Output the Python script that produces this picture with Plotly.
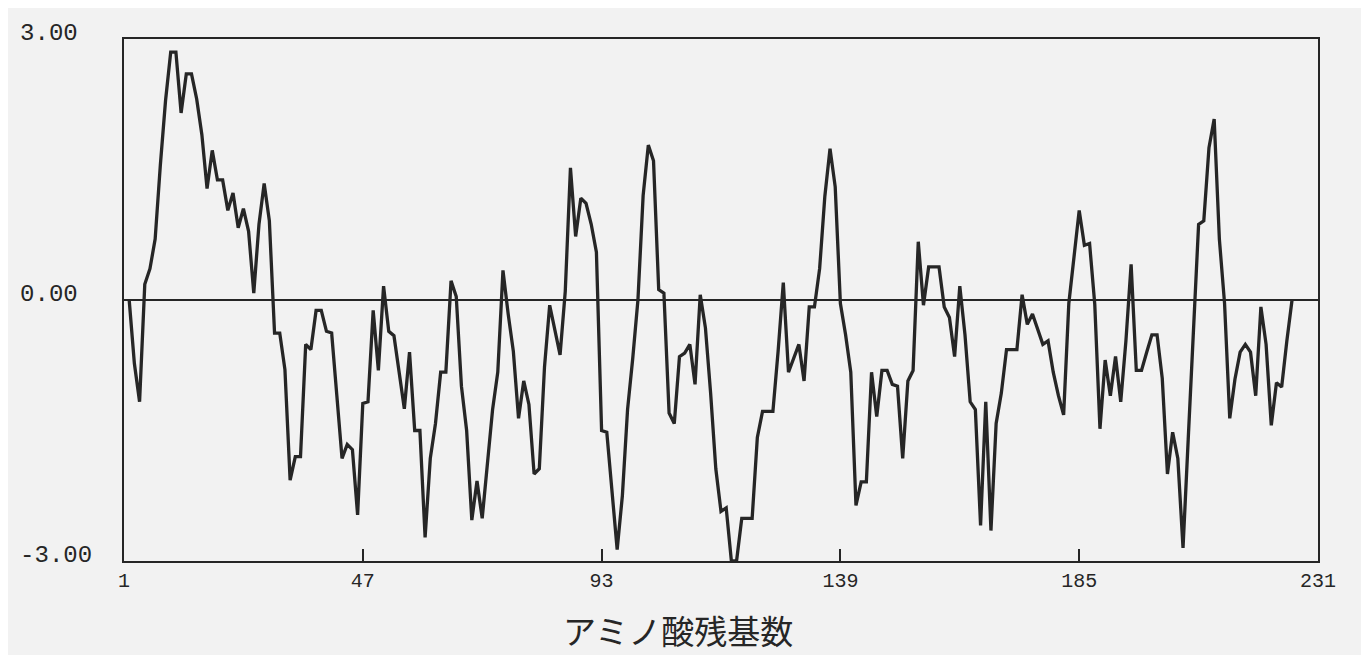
import plotly.graph_objects as go

# residue numbers and hydropathy values
residues = list(range(2, 227))
hydropathy = [
    0.0, -0.73, -1.17, 0.18, 0.36, 0.7, 1.55, 2.29, 2.85,            # 2-10
    2.85, 2.15, 2.6, 2.6, 2.31, 1.9, 1.28, 1.72, 1.38, 1.38,          # 11-20
    1.03, 1.23, 0.83, 1.05, 0.79, 0.08, 0.87, 1.34, 0.91, -0.38,      # 21-30
    -0.38, -0.8, -2.07, -1.8, -1.8, -0.51, -0.57, -0.12, -0.12, -0.36,  # 31-40
    -0.38, -1.1, -1.82, -1.66, -1.72, -2.47, -1.19, -1.17, -0.12, -0.81,  # 41-50
    0.16, -0.36, -0.41, -0.83, -1.25, -0.6, -1.5, -1.5, -2.73, -1.82,   # 51-60
    -1.42, -0.83, -0.83, 0.22, 0.04, -0.99, -1.5, -2.53, -2.08, -2.51,  # 61-70
    -1.86, -1.26, -0.83, 0.34, -0.16, -0.59, -1.36, -0.93, -1.2, -2.0,  # 71-80
    -1.94, -0.77, -0.06, -0.36, -0.63, 0.1, 1.52, 0.73, 1.17, 1.11,     # 81-90
    0.87, 0.55, -1.5, -1.52, -2.25, -2.87, -2.25, -1.26, -0.67, 0.0,    # 91-100
    1.2, 1.78, 1.6, 0.12, 0.08, -1.3, -1.42, -0.65, -0.61, -0.51,       # 101-110
    -0.97, 0.06, -0.32, -1.07, -1.94, -2.43, -2.39, -3.0, -3.0, -2.51,  # 111-120
    -2.51, -2.51, -1.58, -1.28, -1.28, -1.28, -0.59, 0.2, -0.83, -0.67,  # 121-130
    -0.51, -0.93, -0.08, -0.08, 0.36, 1.19, 1.74, 1.3, -0.04, -0.4,     # 131-140
    -0.83, -2.36, -2.09, -2.09, -0.83, -1.34, -0.81, -0.81, -0.97, -0.99,  # 141-150
    -1.82, -0.93, -0.81, 0.67, -0.06, 0.38, 0.38, 0.38, -0.08, -0.2,    # 151-160
    -0.65, 0.16, -0.4, -1.17, -1.26, -2.59, -1.17, -2.65, -1.42, -1.07,  # 161-170
    -0.57, -0.57, -0.57, 0.06, -0.28, -0.16, -0.35, -0.51, -0.47, -0.83,  # 171-180
    -1.1, -1.32, -0.04, 0.5, 1.03, 0.63, 0.65, -0.05, -1.48, -0.69,     # 181-190
    -1.1, -0.65, -1.17, -0.47, 0.41, -0.81, -0.81, -0.6, -0.4, -0.4,    # 191-200
    -0.9, -2.0, -1.52, -1.82, -2.85, -1.6, -0.4, 0.87, 0.91, 1.75,      # 201-210
    2.08, 0.7, -0.04, -1.36, -0.91, -0.6, -0.51, -0.6, -1.1, -0.08,     # 211-220
    -0.51, -1.44, -0.95, -1.0, -0.47, 0.0,                              # 221-226
]

x_ticks = [1, 47, 93, 139, 185, 231]
y_ticks = [-3, 0, 3]
y_tick_text = ["-3.00", "0.00\u00a0", "3.00\u00a0"]
x_title = "アミノ酸残基数"

bg = "#f2f2f2"
ink = "#262626"

fig = go.Figure()
fig.add_trace(go.Scatter(
    x=residues, y=hydropathy, mode="lines",
    line=dict(color=ink, width=3.3),
    showlegend=False, cliponaxis=True,
))

fig.update_layout(
    width=1369, height=655,
    margin=dict(l=105, r=59, t=20, b=102),
    paper_bgcolor=bg, plot_bgcolor=bg,
    font=dict(family="Liberation Mono", color=ink),
)
fig.add_annotation(
    text=x_title, xref="paper", yref="paper", x=0.464, y=-0.133,
    xanchor="center", yanchor="middle", showarrow=False,
    font=dict(family="Noto Sans CJK JP", size=33, color=ink),
)
fig.update_xaxes(
    range=[1, 231], tickvals=x_ticks, ticktext=[str(v) for v in x_ticks],
    ticks="inside", ticklen=12, tickwidth=2, tickcolor=ink,
    showgrid=False, zeroline=False,
    showline=True, linecolor=ink, linewidth=2.2, mirror=True,
    tickfont=dict(family="Liberation Mono", size=20, color=ink),
)
fig.update_yaxes(
    range=[-3, 3], tickvals=y_ticks, ticktext=y_tick_text,
    ticks="", showgrid=False,
    zeroline=True, zerolinecolor=ink, zerolinewidth=2.4,
    showline=True, linecolor=ink, linewidth=2.2, mirror=True,
    tickfont=dict(family="Liberation Mono", size=24, color=ink),
    ticklabelstandoff=25, ticklabelshift=-7,
)

fig.write_html("out.html")
